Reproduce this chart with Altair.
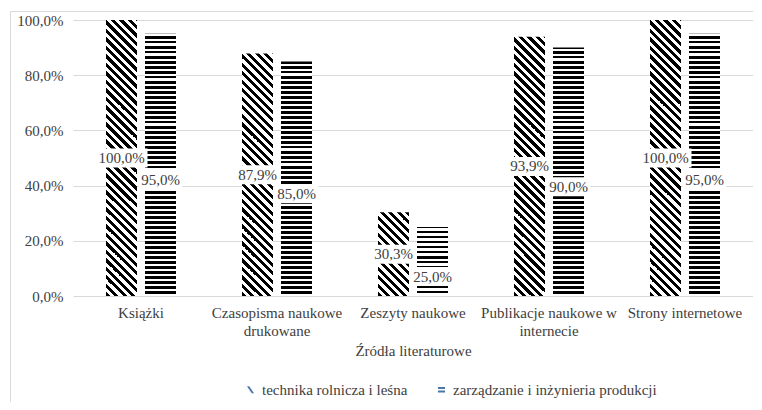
import altair as alt

# ---- data -------------------------------------------------------------
categories = [
    "Książki",
    "Czasopisma naukowe drukowane",
    "Zeszyty naukowe",
    "Publikacje naukowe w internecie",
    "Strony internetowe",
]
series = ["technika rolnicza i leśna", "zarządzanie i inżynieria produkcji"]
values_s1 = [100.0, 87.9, 30.3, 93.9, 100.0]
values_s2 = [95.0, 85.0, 25.0, 90.0, 95.0]
label_lines = {
    "Czasopisma naukowe drukowane": ["Czasopisma naukowe", "drukowane"],
    "Publikacje naukowe w internecie": ["Publikacje naukowe w", "internecie"],
}

# ---- layout -----------------------------------------------------------
PW, PH = 680, 276
STEP = PW / len(categories)
GROUP = 70
BAR, GAP = 31, 8
PI_X = 1 - GROUP / STEP
PI_OFF = GAP / (BAR + GAP)
FONT = "'Times New Roman', 'Liberation Serif', serif"
TXT = "#404040"
GRID = "#d9d9d9"


def diag_gradient(gid, value, period=8.5):
    h = value / 100 * PH
    w = BAR
    lam = (w + h) / (w * w + h * h)
    total = w + h
    stops = []
    k = 0
    while k * period < total:
        a = k * period / total
        b = min((k + 0.5) * period / total, 1)
        c = min((k + 1) * period / total, 1)
        stops += [
            {"offset": a, "color": "#000000"},
            {"offset": b, "color": "#000000"},
            {"offset": b, "color": "#ffffff"},
            {"offset": c, "color": "#ffffff"},
        ]
        k += 1
    return {"gradient": "linear", "id": gid, "x1": 0, "y1": 1,
            "x2": lam * w, "y2": 1 - lam * h, "stops": stops}


def horiz_gradient(gid, value, period=5.0):
    h = value / 100 * PH
    stops = []
    k = 0
    while k * period < h:
        a = k * period / h
        b = min((k + 0.5) * period / h, 1)
        c = min((k + 1) * period / h, 1)
        stops += [
            {"offset": a, "color": "#ffffff"},
            {"offset": b, "color": "#ffffff"},
            {"offset": b, "color": "#000000"},
            {"offset": c, "color": "#000000"},
        ]
        k += 1
    return {"gradient": "linear", "id": gid, "x1": 0, "y1": 1,
            "x2": 0, "y2": 0, "stops": stops}


records = []
for i, cat in enumerate(categories):
    records.append({"category": cat, "series": series[0], "value": values_s1[i],
                    "grad": diag_gradient(f"pat_a_{i}", values_s1[i])})
    records.append({"category": cat, "series": series[1], "value": values_s2[i],
                    "grad": horiz_gradient(f"pat_b_{i}", values_s2[i])})

data = alt.Data(values=records)

shift = 15 * 100 / PH
label_expr = "replace(format(datum.value, '.1f'), '.', ',') + '%'"

x_lab = "datum.label"
for k, v in label_lines.items():
    x_lab = f"datum.value == '{k}' ? ['{v[0]}', '{v[1]}'] : (" + x_lab + ")"

x_enc = alt.X(
    "category:N", sort=categories,
    scale=alt.Scale(paddingInner=PI_X, paddingOuter=PI_X / 2),
    axis=alt.Axis(title="Źródła literaturowe", labelAngle=0, ticks=False, domain=False,
                  labelPadding=9, labelFont=FONT, labelFontSize=15, labelColor=TXT,
                  labelLineHeight=18, labelExpr=x_lab, labelLimit=300,
                  titleFont=FONT, titleFontSize=15, titleFontWeight="normal",
                  titleColor=TXT, titlePadding=5),
)
xo_enc = alt.XOffset("series:N", sort=series,
                     scale=alt.Scale(paddingInner=PI_OFF, paddingOuter=0))
y_scale = alt.Scale(domain=[0, 100])

base = alt.Chart(data)

bars = base.mark_bar(strokeWidth=0).encode(
    x=x_enc,
    xOffset=xo_enc,
    y=alt.Y("value:Q", scale=y_scale,
            axis=alt.Axis(title=None, values=[0, 20, 40, 60, 80, 100],
                          labelExpr=label_expr,
                          domain=False, ticks=False, gridColor=GRID, labelPadding=10,
                          labelFont=FONT, labelFontSize=15, labelColor=TXT)),
    fill=alt.Fill("grad:N", scale=None),
)

lab_base = base.transform_calculate(
    label=label_expr,
    ylab=f"datum.value / 2 - (datum.series == '{series[1]}' ? {shift} : 0)",
)

box_wide = lab_base.transform_filter("length(datum.label) >= 6").mark_point(
    shape="M-1,-0.365H1V0.365H-1Z", size=52 * 52, filled=True, color="white",
    opacity=1, strokeWidth=0,
).encode(x=alt.X("category:N", sort=categories), xOffset=alt.XOffset("series:N", sort=series),
         y=alt.Y("ylab:Q", scale=y_scale))

box_narrow = lab_base.transform_filter("length(datum.label) < 6").mark_point(
    shape="M-1,-0.432H1V0.432H-1Z", size=44 * 44, filled=True, color="white",
    opacity=1, strokeWidth=0,
).encode(x=alt.X("category:N", sort=categories), xOffset=alt.XOffset("series:N", sort=series),
         y=alt.Y("ylab:Q", scale=y_scale))

texts = lab_base.mark_text(font=FONT, fontSize=15, color=TXT, baseline="middle").encode(
    x=alt.X("category:N", sort=categories),
    xOffset=alt.XOffset("series:N", sort=series),
    y=alt.Y("ylab:Q", scale=y_scale),
    text="label:N",
)

legend_pts = base.mark_point(filled=True, opacity=0).encode(
    x=alt.X("category:N", sort=categories),
    y=alt.Y("value:Q", scale=y_scale),
    shape=alt.Shape(
        "series:N", sort=series,
        scale=alt.Scale(domain=series, range=[
            "M-1,-1L-0.35,-1L1,1L0.35,1Z",
            "M-1,-0.8H1V-0.2H-1ZM-1,0.2H1V0.8H-1Z",
        ]),
        legend=alt.Legend(orient="none", legendX=170, legendY=362, direction="horizontal",
                          title=None, symbolSize=50, symbolOpacity=1,
                          symbolFillColor="#000000", symbolStrokeColor="#000000",
                          symbolStrokeWidth=0, labelFont=FONT, labelFontSize=15,
                          labelColor=TXT, labelOffset=4, columnPadding=26,
                          labelLimit=400),
    ),
)

frame = alt.Chart(alt.Data(values=[{"f": 1}])).mark_rect(
    fillOpacity=0, stroke=GRID, strokeWidth=1
).encode(x=alt.value(-62.5), y=alt.value(-8.5), x2=alt.value(PW + 60), y2=alt.value(PH + 200))

chart = alt.layer(frame, bars, box_wide, box_narrow, texts, legend_pts).properties(
    width=PW, height=PH,
    autosize=alt.AutoSizeParams(type="none"),
    padding={"left": 65, "top": 12, "right": 0, "bottom": 106},
).configure_view(stroke=None)

chart.save("out.html", embed_options={"renderer": "svg", "actions": False})
